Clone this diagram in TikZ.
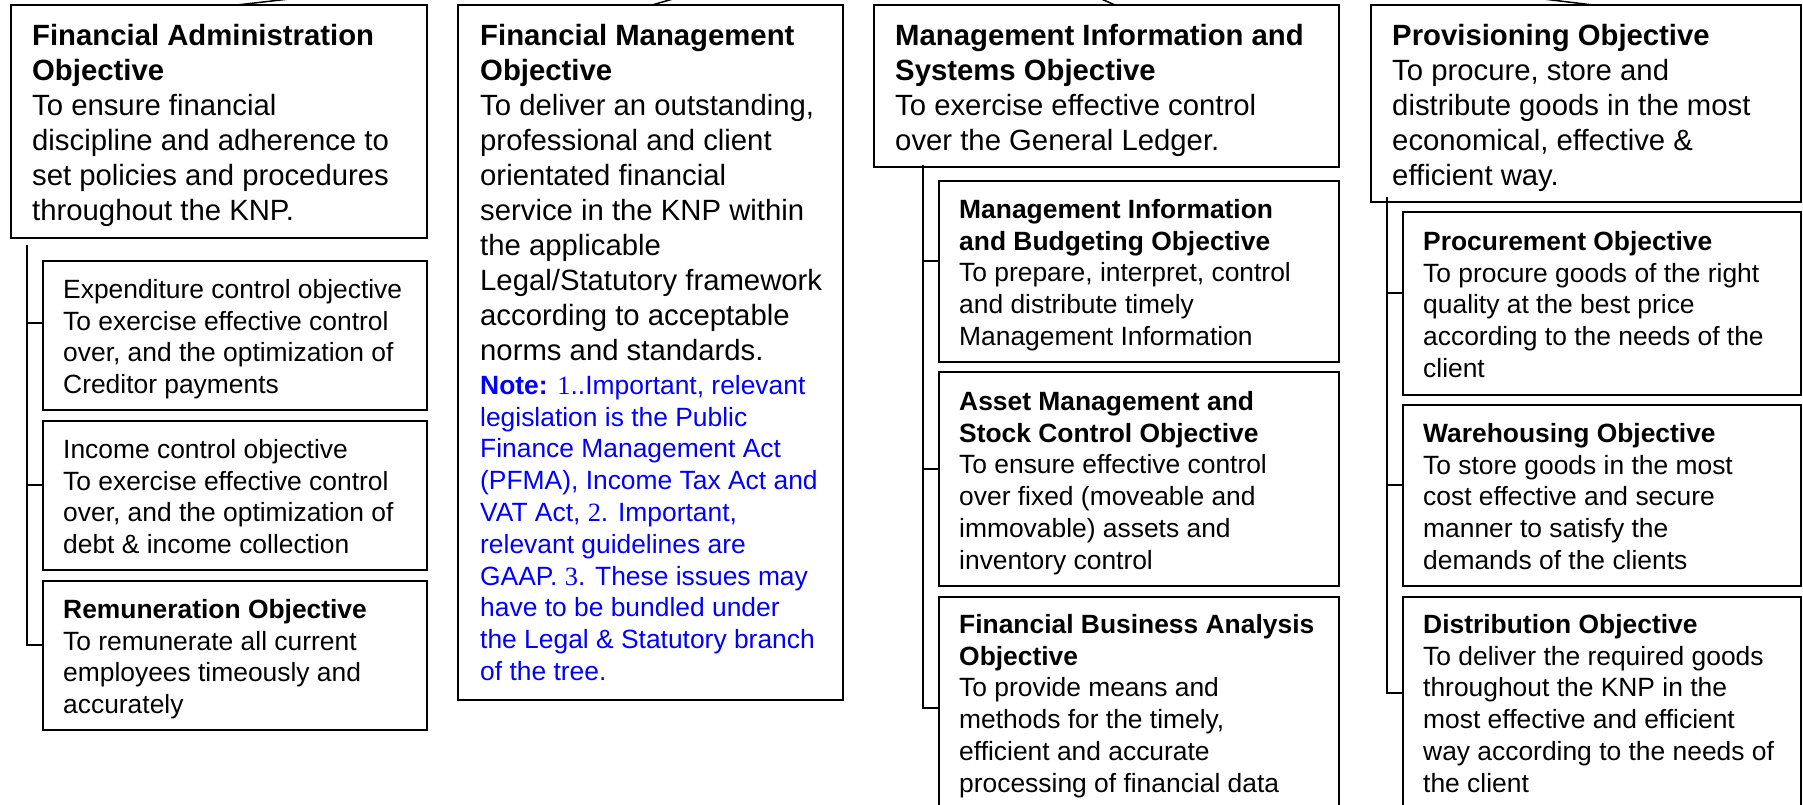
\documentclass[tikz,border=0pt]{standalone}
\usepackage{fontspec}
\setmainfont{Liberation Sans}
\newfontfamily\numserif{Liberation Serif}
\begin{document}
\begin{tikzpicture}[x=1pt,y=-1pt,
  box/.style={draw=black, line width=2pt, anchor=north west, inner sep=0pt, outer sep=0pt},
  conn/.style={draw=black, line width=2pt},
  bigtxt/.style={anchor=north west, inner sep=0pt, align=left, font=\fontsize{29.3}{35}\selectfont},
  smalltxt/.style={anchor=north west, inner sep=0pt, align=left, font=\fontsize{26.4}{31.8}\selectfont}
]
\useasboundingbox (0,0) rectangle (1803,805);
\clip (0,0) rectangle (1803,805);
\fill[white] (0,0) rectangle (1803,805);

% boxes
\node[box, minimum width=416pt, minimum height=233pt] (b1) at (11,5) {};
\node[box, minimum width=384pt, minimum height=149pt] (b1a) at (43,261) {};
\node[box, minimum width=384pt, minimum height=149pt] (b1b) at (43,421) {};
\node[box, minimum width=384pt, minimum height=149pt] (b1c) at (43,581) {};
\node[box, minimum width=385pt, minimum height=695pt] (b2) at (458,5) {};
\node[box, minimum width=465pt, minimum height=162pt] (b3) at (874,5) {};
\node[box, minimum width=400pt, minimum height=181pt] (b3a) at (939,181) {};
\node[box, minimum width=400pt, minimum height=214pt] (b3b) at (939,372) {};
\node[box, minimum width=400pt, minimum height=240pt] (b3c) at (939,597) {};
\node[box, minimum width=430pt, minimum height=197pt] (b4) at (1371,5) {};
\node[box, minimum width=398pt, minimum height=183pt] (b4a) at (1403,212) {};
\node[box, minimum width=398pt, minimum height=181pt] (b4b) at (1403,405) {};
\node[box, minimum width=398pt, minimum height=240pt] (b4c) at (1403,597) {};

% texts (top of node = first baseline - rule height)
\node[bigtxt] (t1) at (32,21) {\rule{0pt}{24pt}\textbf{Financial Administration}\\\textbf{Objective}\\To ensure financial\\discipline and adherence to\\set policies and procedures\\throughout the KNP.};
\node[smalltxt] (t1a) at (63,276) {\rule{0pt}{22pt}Expenditure control objective\\To exercise effective control\\over, and the optimization of\\Creditor payments};
\node[smalltxt] (t1b) at (63,436) {\rule{0pt}{22pt}Income control objective\\To exercise effective control\\over, and the optimization of\\debt \& income collection};
\node[smalltxt] (t1c) at (63,596) {\rule{0pt}{22pt}\textbf{Remuneration Objective}\\To remunerate all current\\employees timeously and\\accurately};

\node[bigtxt] (t2) at (480,21) {\rule{0pt}{24pt}\textbf{Financial Management}\\\textbf{Objective}\\To deliver an outstanding,\\professional and client\\orientated financial\\service in the KNP within\\the applicable\\Legal/Statutory framework\\according to acceptable\\norms and standards.};
\node[smalltxt, text=blue] (t2n) at (480,372) {\rule{0pt}{22pt}\textbf{Note:} {\numserif 1}..Important, relevant\\legislation is the Public\\Finance Management Act\\(PFMA), Income Tax Act and\\VAT Act, {\numserif 2}. Important,\\relevant guidelines are\\GAAP. {\numserif 3}. These issues may\\have to be bundled under\\the Legal \& Statutory branch\\of the tree.};

\node[bigtxt] (t3) at (895,21) {\rule{0pt}{24pt}\textbf{Management Information and}\\\textbf{Systems Objective}\\To exercise effective control\\over the General Ledger.};
\node[smalltxt] (t3a) at (959,196) {\rule{0pt}{22pt}\textbf{Management Information}\\\textbf{and Budgeting Objective}\\To prepare, interpret, control\\and distribute timely\\Management Information};
\node[smalltxt] (t3b) at (959,388) {\rule{0pt}{22pt}\textbf{Asset Management and}\\\textbf{Stock Control Objective}\\To ensure effective control\\over fixed (moveable and\\immovable) assets and\\inventory control};
\node[smalltxt] (t3c) at (959,611) {\rule{0pt}{22pt}\textbf{Financial Business Analysis}\\\textbf{Objective}\\To provide means and\\methods for the timely,\\efficient and accurate\\processing of financial data};

\node[bigtxt] (t4) at (1392,21) {\rule{0pt}{24pt}\textbf{Provisioning Objective}\\To procure, store and\\distribute goods in the most\\economical, effective \&\\efficient way.};
\node[smalltxt] (t4a) at (1423,228) {\rule{0pt}{22pt}\textbf{Procurement Objective}\\To procure goods of the right\\quality at the best price\\according to the needs of the\\client};
\node[smalltxt] (t4b) at (1423,420) {\rule{0pt}{22pt}\textbf{Warehousing Objective}\\To store goods in the most\\cost effective and secure\\manner to satisfy the\\demands of the clients};
\node[smalltxt] (t4c) at (1423,611) {\rule{0pt}{22pt}\textbf{Distribution Objective}\\To deliver the required goods\\throughout the KNP in the\\most effective and efficient\\way according to the needs of\\the client};

% connectors from the (off-picture) parent
\coordinate (P) at (932,-75);
\draw[conn, line width=1.5pt] (P) -- ([xshift=18pt]b1.north);
\draw[conn, line width=1.5pt] (P) -- ([xshift=1.5pt]b2.north);
\draw[conn, line width=1.5pt] (P) -- ([xshift=8.5pt]b3.north);
\draw[conn, line width=1.5pt] (P) -- ([xshift=7pt]b4.north);

% branch 1
\coordinate (v1) at (27,245);
\coordinate (j1a) at ([yshift=-62pt]b1a.north west);
\coordinate (j1b) at ([yshift=-64pt]b1b.north west);
\coordinate (j1c) at ([yshift=-64pt]b1c.north west);
\draw[conn] (v1) |- (j1c);
\draw[conn] (v1 |- j1a) -- (j1a);
\draw[conn] (v1 |- j1b) -- (j1b);

% branch 3
\coordinate (v3) at (923,165);
\coordinate (j3a) at ([yshift=-80pt]b3a.north west);
\coordinate (j3b) at ([yshift=-97pt]b3b.north west);
\coordinate (j3c) at ([yshift=-111pt]b3c.north west);
\draw[conn] (v3) |- (j3c);
\draw[conn] (v3 |- j3a) -- (j3a);
\draw[conn] (v3 |- j3b) -- (j3b);

% branch 4
\coordinate (v4) at (1387,197);
\coordinate (j4a) at ([yshift=-81pt]b4a.north west);
\coordinate (j4b) at ([yshift=-80pt]b4b.north west);
\coordinate (j4c) at ([yshift=-96pt]b4c.north west);
\draw[conn] (v4) |- (j4c);
\draw[conn] (v4 |- j4a) -- (j4a);
\draw[conn] (v4 |- j4b) -- (j4b);
\end{tikzpicture}
\end{document}
